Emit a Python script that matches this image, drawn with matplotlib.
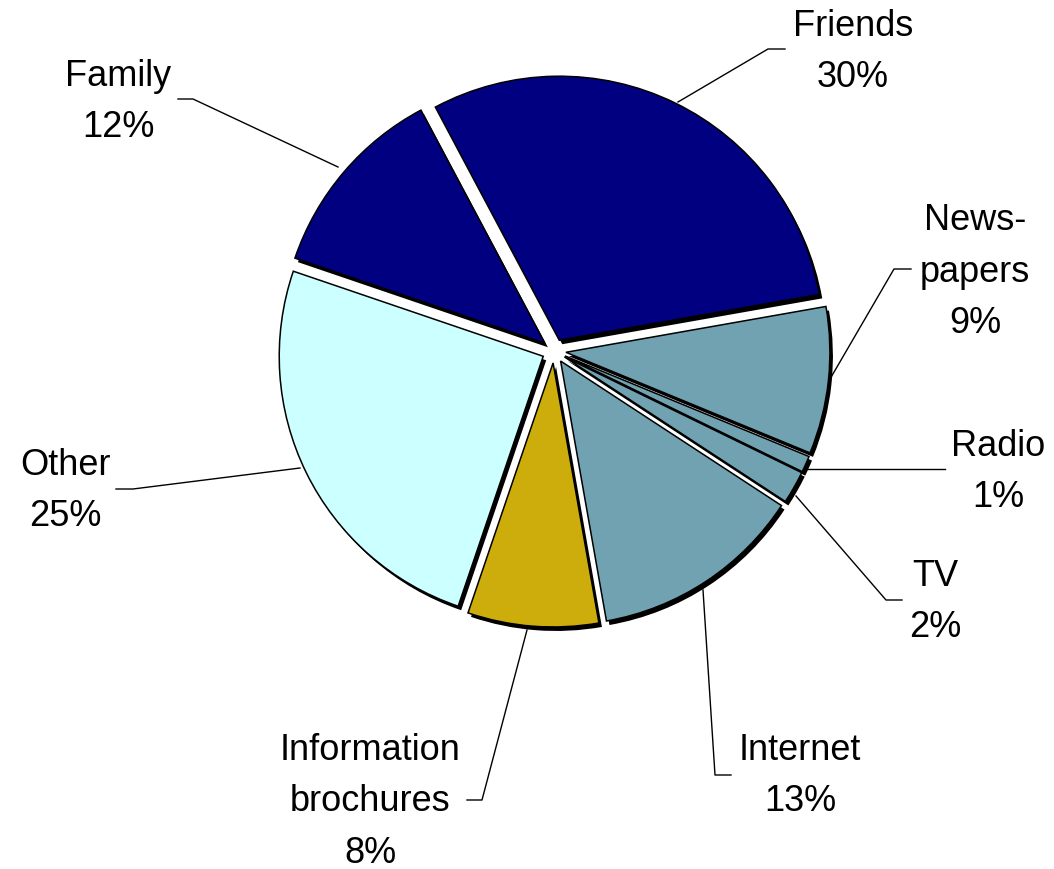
import matplotlib
matplotlib.use("Agg")
import matplotlib.pyplot as plt

plt.rcParams['font.family'] = ['Liberation Sans', 'DejaVu Sans']

labels = ["Friends", "News-\npapers", "Radio", "TV", "Internet",
          "Information\nbrochures", "Other", "Family"]
shares = [30, 9, 1, 2, 13, 8, 25, 12]
colors = ["#000080", "#70A2B1", "#70A2B1", "#70A2B1", "#70A2B1",
          "#CCAD0C", "#CCFFFF", "#000080"]

# label placement (pixel coords, y from top) and leader line elbows
label_pos = [(853, 52), (975, 272), (998, 472), (935, 602), (800, 776),
             (370, 802), (65, 491), (118, 102)]
leaders = [
    [(678, 103), (768, 50), (785, 50)],
    [(830, 380), (894, 270), (911, 270)],
    [(806, 470), (945, 470)],
    [(796, 497), (886, 601), (902, 601)],
    [(703, 591), (715, 776), (731, 776)],
    [(527, 631), (482, 801), (467, 801)],
    [(300, 469), (133, 490), (116, 490)],
    [(338, 168), (193, 100), (178, 100)],
]

W, H = 1054, 870
cx, cy = 554, 352
radius = 264
explode = [12] * len(shares)   # pie explode is in data units here

fig = plt.figure(figsize=(W / 100, H / 100), dpi=100)
ax = fig.add_axes([0, 0, 1, 1])

# shadow: same pie in black, shifted right/down
ax.pie(shares, colors=["black"] * len(shares), startangle=118, counterclock=False,
       explode=explode, radius=radius, center=(cx + 3, H - cy - 4),
       wedgeprops=dict(linewidth=0), frame=True)
ax.pie(shares, colors=colors, startangle=118, counterclock=False,
       explode=explode, radius=radius, center=(cx, H - cy),
       wedgeprops=dict(edgecolor="black", linewidth=1.1), frame=True)

for lab, val, (tx, ty), pts in zip(labels, shares, label_pos, leaders):
    ax.text(tx, H - ty, f"{lab}\n{val}%", ha="center", va="center",
            fontsize=26, linespacing=1.6, color="black")
    xs = [p[0] for p in pts]
    ys = [H - p[1] for p in pts]
    ax.plot(xs, ys, color="black", linewidth=1.0)

ax.set_xlim(0, W)
ax.set_ylim(0, H)
ax.set_aspect("equal")
ax.axis("off")

fig.savefig("out.png", dpi=100, facecolor="white")
